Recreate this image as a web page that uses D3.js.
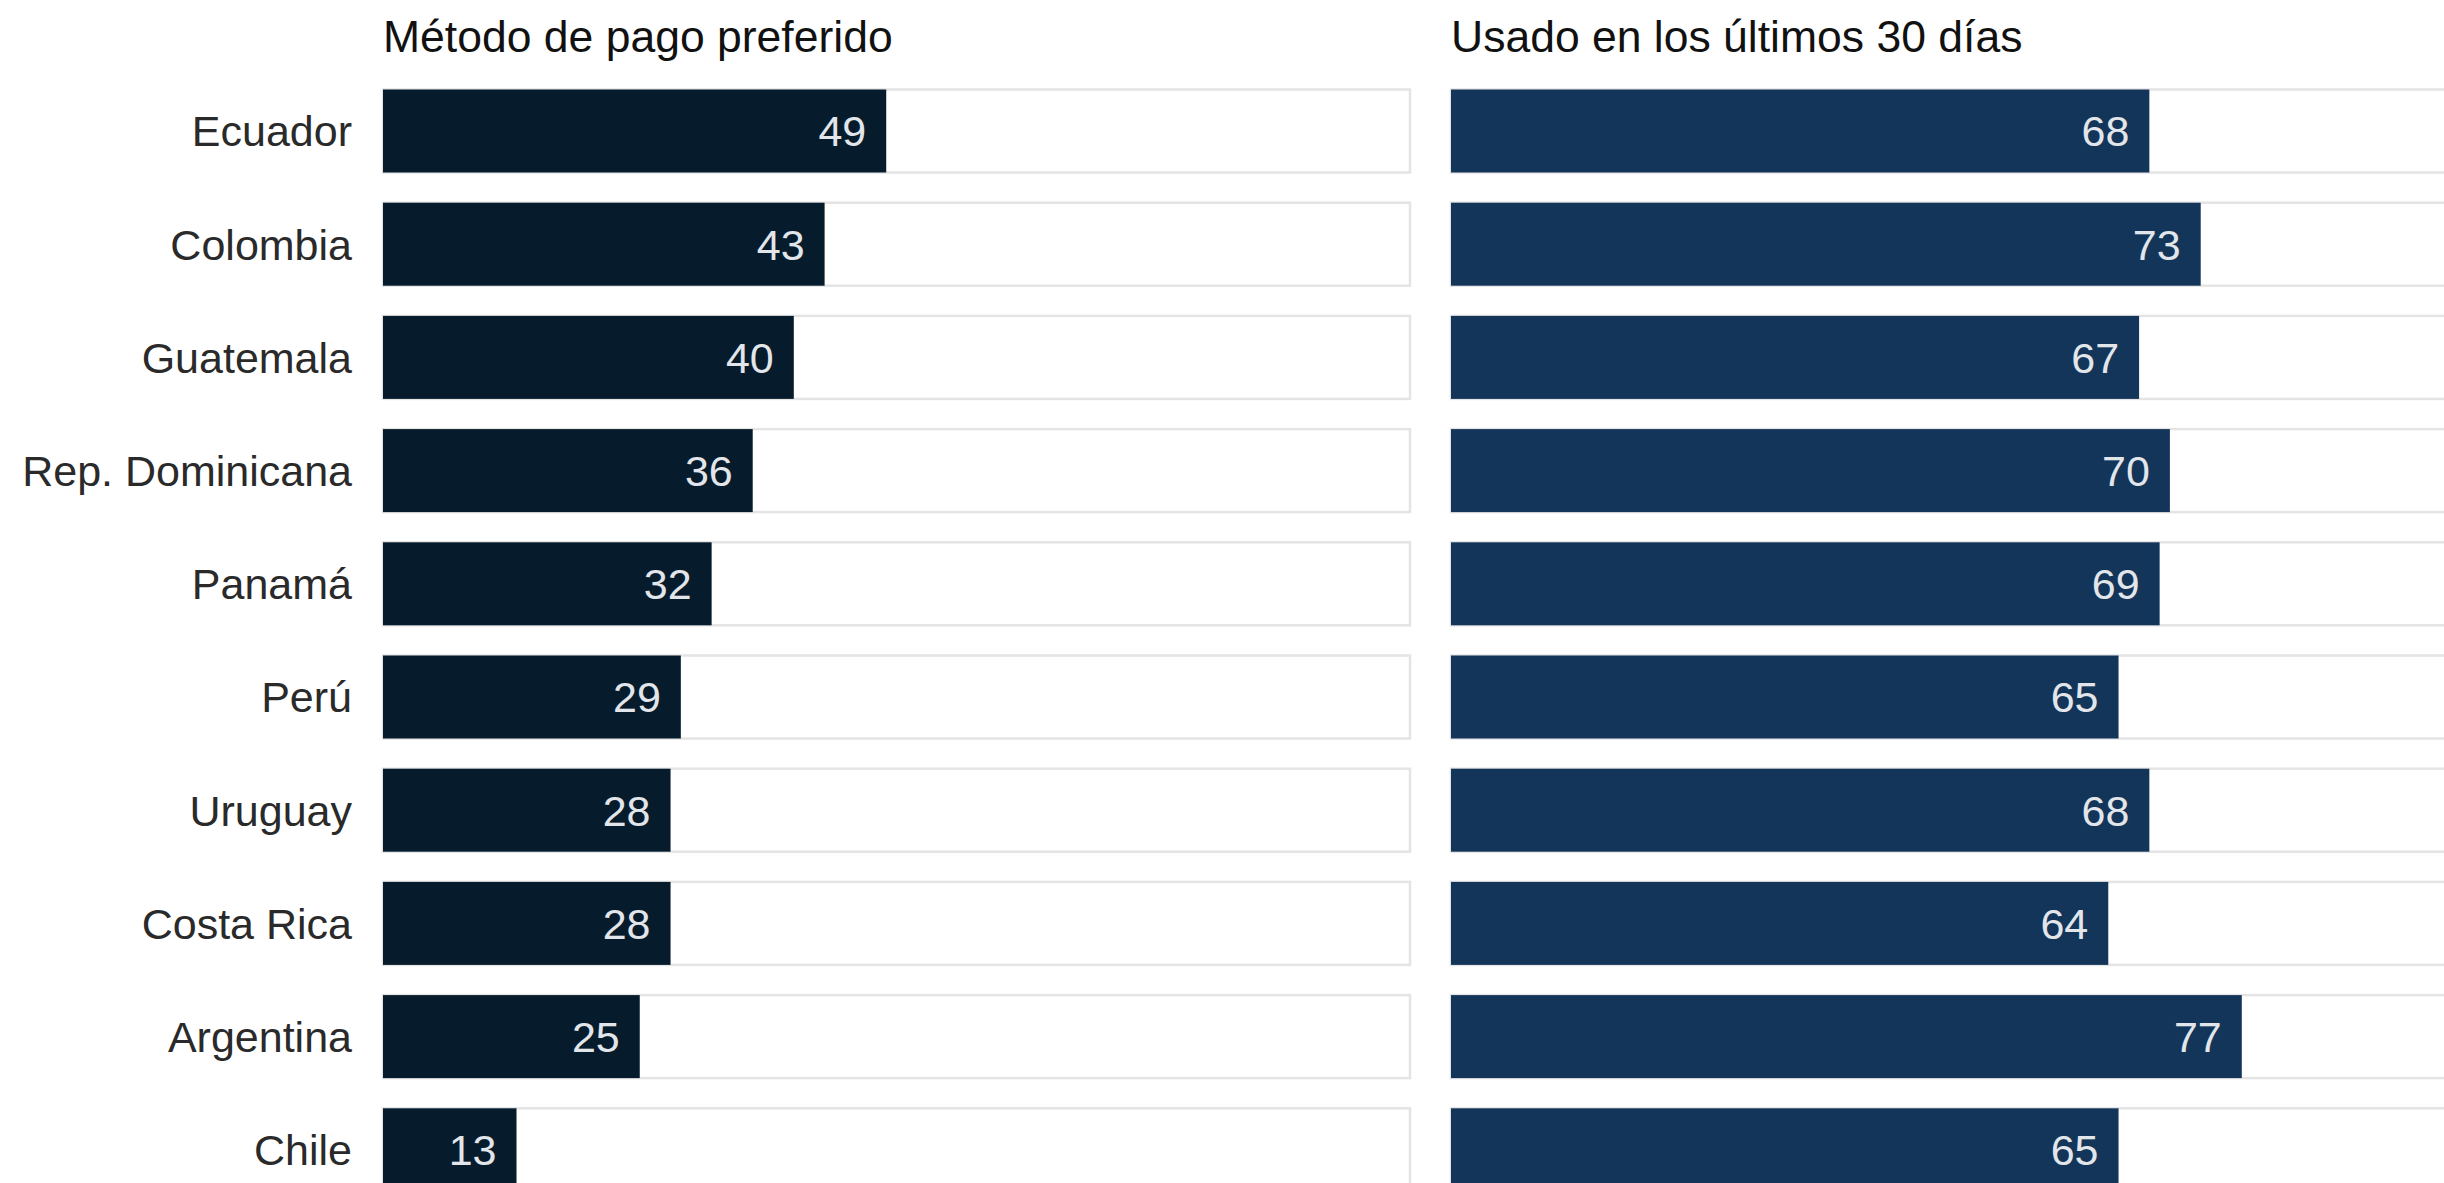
<!DOCTYPE html>
<html>
<head>
<meta charset="utf-8">
<script src="https://cdn.jsdelivr.net/npm/d3@7"></script>
<style>
    html, body { margin: 0; padding: 0; background: #fff; overflow: hidden; }
    svg { display: block; }
</style>
</head>
<body>
<svg id="chart"></svg>
<script>
const countries = ["Ecuador", "Colombia", "Guatemala", "Rep. Dominicana", "Panamá",
    "Perú", "Uruguay", "Costa Rica", "Argentina", "Chile"];
const preferredValues = [49, 43, 40, 36, 32, 29, 28, 28, 25, 13];
const usedValues = [68, 73, 67, 70, 69, 65, 68, 64, 77, 65];
const panelTitles = ["Método de pago preferido", "Usado en los últimos 30 días"];

function drawPairedBars(id = "#chart") {
    var chartObj = {};
    chartObj.width = 2444;
    chartObj.height = 1183;
    chartObj.unit = 10.27; // px per percentage point
    chartObj.panelLeft = [383, 1451];
    chartObj.colors = ["#061c2c", "#133559"];
    chartObj.font = "'Liberation Sans', Arial, sans-serif";

    const step = 113.2;
    const pad = 30.2 / step;
    chartObj.yScale = d3.scaleBand()
        .domain(countries)
        .range([89.5, 89.5 + step * (countries.length - pad)])
        .paddingInner(pad)
        .paddingOuter(0);

    const svg = d3.select(id)
        .attr("width", chartObj.width)
        .attr("height", chartObj.height)
        .attr("viewBox", [0, 0, chartObj.width, chartObj.height]);

    const series = [preferredValues, usedValues];

    series.forEach((values, i) => {
        const x0 = chartObj.panelLeft[i];
        const xScale = d3.scaleLinear().domain([0, 100]).range([x0, x0 + 100 * chartObj.unit]);
        const rows = countries.map((c, k) => ({ country: c, value: values[k] }));
        const g = svg.append("g");

        // panel title
        g.append("text")
            .attr("x", x0)
            .attr("y", 52)
            .attr("fill", "#111")
            .style("font-family", chartObj.font)
            .style("font-size", "44.5px")
            .text(panelTitles[i]);

        // background track (0-100)
        g.selectAll("rect.track")
            .data(rows)
            .join("rect")
            .attr("class", "track")
            .attr("x", xScale(0))
            .attr("y", d => chartObj.yScale(d.country))
            .attr("width", xScale(100) - xScale(0))
            .attr("height", chartObj.yScale.bandwidth())
            .attr("fill", "#fff")
            .attr("stroke", "#e4e4e4")
            .attr("stroke-width", 2.5);

        // bars
        g.selectAll("rect.bar")
            .data(rows)
            .join("rect")
            .attr("class", "bar")
            .attr("x", xScale(0))
            .attr("y", d => chartObj.yScale(d.country))
            .attr("width", d => xScale(d.value) - xScale(0))
            .attr("height", chartObj.yScale.bandwidth())
            .attr("fill", chartObj.colors[i]);

        // value labels inside the bar end
        g.selectAll("text.value")
            .data(rows)
            .join("text")
            .attr("class", "value")
            .attr("x", d => xScale(d.value) - 20)
            .attr("y", d => chartObj.yScale(d.country) + chartObj.yScale.bandwidth() / 2)
            .attr("dy", "0.36em")
            .attr("text-anchor", "end")
            .attr("fill", "#e2e6ea")
            .style("font-family", chartObj.font)
            .style("font-size", "43px")
            .text(d => d.value);
    });

    // country labels (left axis)
    const yAxis = svg.append("g")
        .attr("transform", `translate(${chartObj.panelLeft[0]},0)`)
        .call(d3.axisLeft(chartObj.yScale).tickSize(0).tickPadding(31));
    yAxis.select(".domain").remove();
    yAxis.selectAll(".tick text")
        .attr("dy", "0.36em")
        .style("fill", "#2a2a2a")
        .style("font-family", chartObj.font)
        .style("font-size", "43px");

    return chartObj;
}

drawPairedBars();
</script>
</body>
</html>
